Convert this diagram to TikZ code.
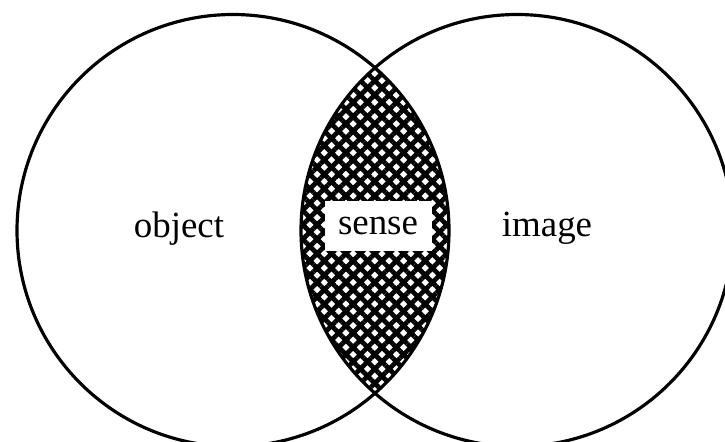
\documentclass[tikz,border=0pt]{standalone}
\usepackage{fontspec}
\setmainfont{Liberation Serif}
\usetikzlibrary{patterns.meta}

\begin{document}
\begin{tikzpicture}[
        set/.style={circle, draw, line width=0.9pt, minimum size=4.32cm, inner sep=0pt},
        label/.style={font=\fontsize{10.5pt}{12pt}\selectfont, anchor=base},
        hatch/.style={pattern={Lines[angle=45, distance=2.9pt, line width=1.35pt]},
                      preaction={pattern={Lines[angle=-45, distance=2.9pt, line width=1.35pt]}}}
    ]
        \useasboundingbox (0,0) rectangle (7.25,4.41);

        % Centres
        \coordinate (objc) at (2.33,2.105);
        \coordinate (imgc) at (5.17,2.105);

        % Overlap
        \begin{scope}
            \clip (objc) circle (2.16);
            \path[hatch] (imgc) circle (2.16);
        \end{scope}

        % Sets
        \node[set] (objset) at (objc) {};
        \node[set] (imgset) at (imgc) {};

        % Labels
        \node[label] (objlbl) at (1.79,2.04) {object};
        \node[label] (imglbl) at (5.47,2.05) {image};
        \node[label, anchor=center, fill=white, minimum width=1.07cm, minimum height=0.5cm] (senselbl) at (3.78,2.15) {sense};

    \end{tikzpicture}
\end{document}
